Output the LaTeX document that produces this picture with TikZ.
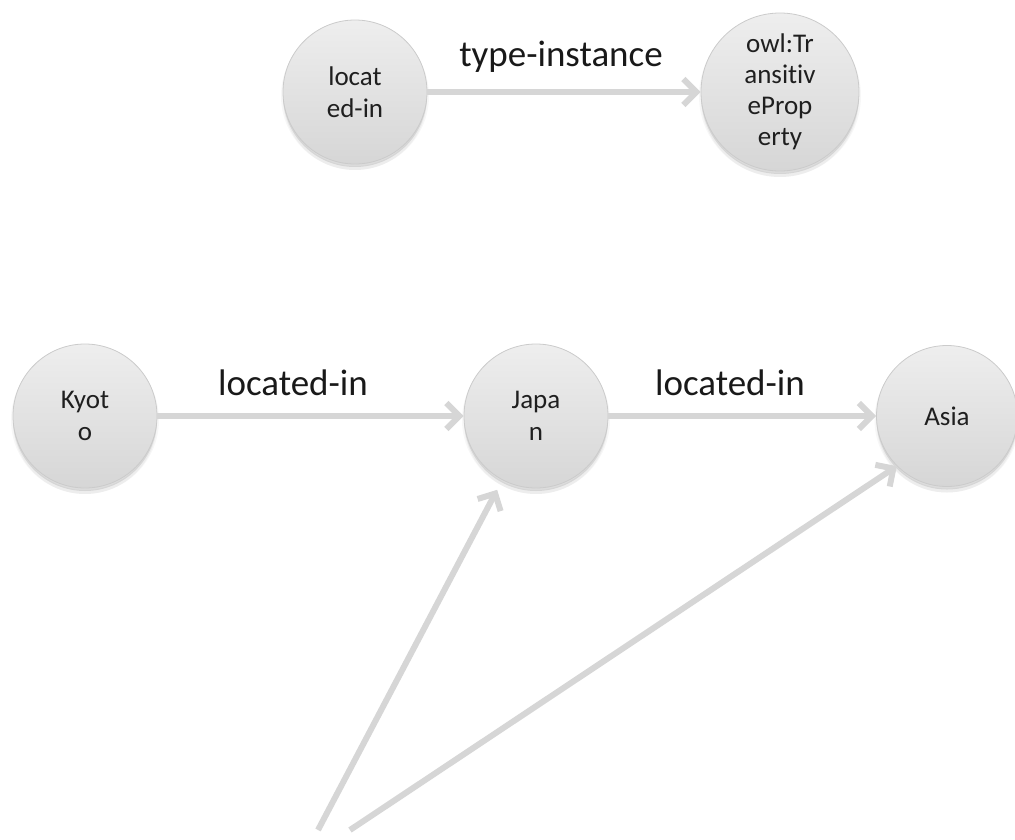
\documentclass[tikz,border=0pt]{standalone}
\usepackage{fontspec}
\setmainfont{Carlito}[Ligatures=NoCommon]
\usetikzlibrary{arrows.meta}
\definecolor{ballborder}{HTML}{CBCBCB}
\definecolor{balltop}{HTML}{EEEEEE}
\definecolor{ballbottom}{HTML}{D6D6D6}
\definecolor{linkgray}{HTML}{D6D6D6}
\begin{document}
\begin{tikzpicture}[x=1pt,y=-1pt,
  ball/.style={circle, minimum size=#1, inner sep=0pt,
    draw=ballborder, line width=0.8pt,
    top color=balltop, bottom color=ballbottom,
    align=center, text=black!88,
    font=\fontsize{27}{32}\selectfont,
    preaction={fill=black, opacity=0.04, transform canvas={yshift=-6pt}},
    preaction={draw=black, line width=4pt, opacity=0.03, transform canvas={yshift=-4pt}},
    preaction={fill=black, opacity=0.10, transform canvas={yshift=-3pt}}},
  ball/.default=144pt,
  edgelabel/.style={font=\fontsize{37}{44}\selectfont, text=black!90},
  link/.style={draw=linkgray, line width=6pt,
    -{Straight Barb[length=13pt,width=26pt]}}]

\useasboundingbox (0,0) rectangle (1015,839);

% property node and its type
\node[ball] (loc) at (355,92) {locat\\ed-in};
\node[ball=158pt, font=\fontsize{27}{31}\selectfont] (owl) at (780,92) {owl:Tr\\ansitiv\\eProp\\erty};

% instances
\node[ball] (kyoto) at (85,416) {Kyot\\o};
\node[ball] (japan) at (536,416) {Japa\\n};
\node[ball=141pt] (asia) at (947,416) {Asia};

% edge labels
\node[edgelabel] (ltype) at (561,57) {type-instance};
\node[edgelabel] (lkj) at (293,383) {located-in};
\node[edgelabel] (lja) at (730,383) {located-in};

% free ends of the two inferred links
\coordinate (s1) at (318,830);
\coordinate (s2) at (350,830);

% links
\draw[link] (loc) -- (owl);
\draw[link] (kyoto) -- (japan);
\draw[link] (japan) -- (asia);
\draw[link, shorten >=11pt] (s1) -- (japan);
\draw[link] (s2) -- (asia.225);
\end{tikzpicture}
\end{document}
